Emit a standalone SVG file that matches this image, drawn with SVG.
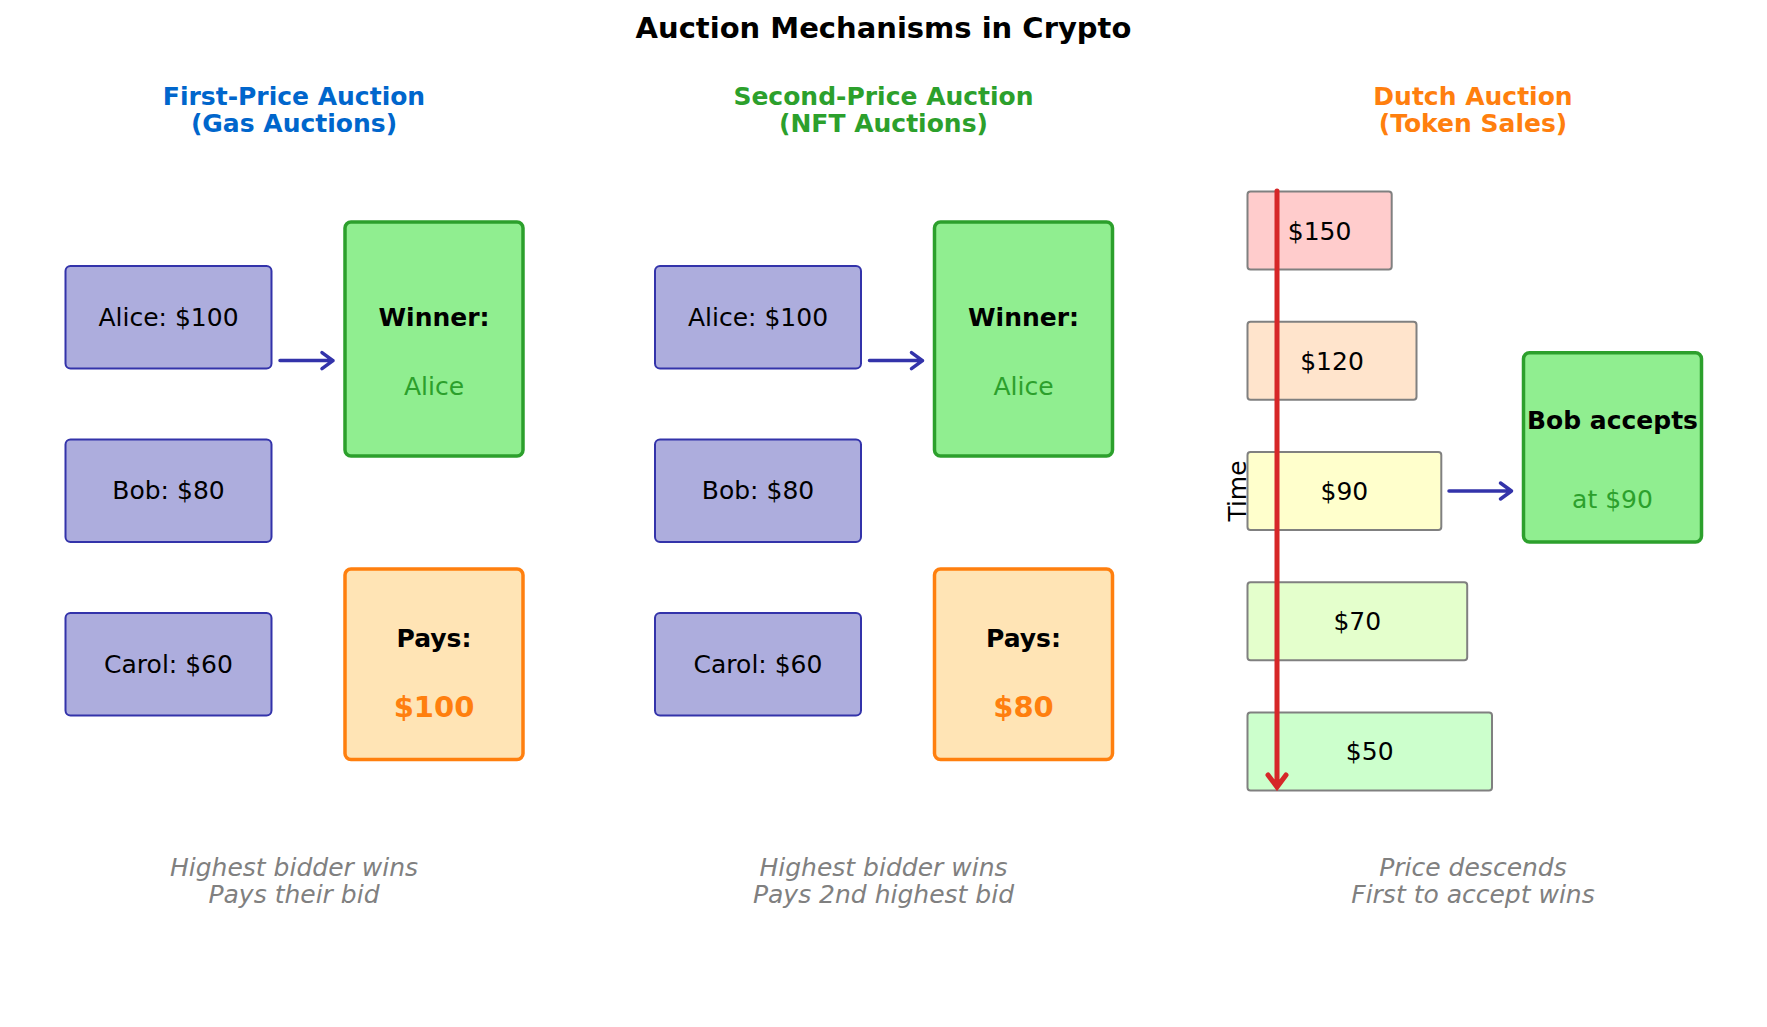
<svg xmlns="http://www.w3.org/2000/svg" width="1767" height="1027" viewBox="0 0 1767 1027">
<style>
text{font-family:"DejaVu Sans","Liberation Sans",sans-serif;font-size:25px;text-anchor:middle;fill:#000}
.title{font-size:29px;font-weight:bold}
.sub{font-weight:bold}
.cap{font-style:italic;fill:#808080}
.bid{fill:#adaddd;stroke:#3333aa;stroke-width:2}
.win{fill:#90ee90;stroke:#2ca02c;stroke-width:3.5}
.pay{fill:#ffe4b5;stroke:#ff7f0e;stroke-width:3.5}
.price{stroke:#808080;stroke-width:2}
.b{font-weight:bold}
.g{fill:#2ca02c}
.o{fill:#ff7f0e;font-weight:bold;font-size:29px}
.arr{fill:none;stroke:#3333aa;stroke-width:3.5;stroke-linecap:round;stroke-linejoin:round}
.red{fill:none;stroke:#d62728;stroke-width:5;stroke-linecap:round;stroke-linejoin:miter}
</style>
<rect width="1767" height="1027" fill="#fff"/>
<text class="title" x="883.5" y="38">Auction Mechanisms in Crypto</text>

<g id="panel-first">
<text class="sub" x="294" y="105" style="fill:#0066cc">First-Price Auction</text>
<text class="sub" x="294" y="132" style="fill:#0066cc">(Gas Auctions)</text>
<g id="fp-alice"><rect class="bid" x="65.5" y="266" width="206" height="102.5" rx="5"/><text x="168.5" y="325.8">Alice: $100</text></g>
<g id="fp-bob"><rect class="bid" x="65.5" y="439.5" width="206" height="102.5" rx="5"/><text x="168.5" y="499.3">Bob: $80</text></g>
<g id="fp-carol"><rect class="bid" x="65.5" y="613" width="206" height="102.5" rx="5"/><text x="168.5" y="672.8">Carol: $60</text></g>
<g id="fp-winner"><rect class="win" x="345" y="222" width="178" height="234" rx="6"/><text class="b" x="434" y="325.8">Winner:</text><text class="g" x="434" y="394.5">Alice</text></g>
<g id="fp-pays"><rect class="pay" x="345" y="569" width="178" height="190.5" rx="6"/><text class="b" x="434" y="646.8">Pays:</text><text class="o" x="434" y="717">$100</text></g>
<text class="cap" x="294" y="875.5">Highest bidder wins</text>
<text class="cap" x="294" y="903">Pays their bid</text>
</g>

<g id="panel-second">
<text class="sub" x="883.5" y="105" style="fill:#2ca02c">Second-Price Auction</text>
<text class="sub" x="883.5" y="132" style="fill:#2ca02c">(NFT Auctions)</text>
<g id="sp-alice"><rect class="bid" x="655" y="266" width="206" height="102.5" rx="5"/><text x="758" y="325.8">Alice: $100</text></g>
<g id="sp-bob"><rect class="bid" x="655" y="439.5" width="206" height="102.5" rx="5"/><text x="758" y="499.3">Bob: $80</text></g>
<g id="sp-carol"><rect class="bid" x="655" y="613" width="206" height="102.5" rx="5"/><text x="758" y="672.8">Carol: $60</text></g>
<g id="sp-winner"><rect class="win" x="934.5" y="222" width="178" height="234" rx="6"/><text class="b" x="1023.5" y="325.8">Winner:</text><text class="g" x="1023.5" y="394.5">Alice</text></g>
<g id="sp-pays"><rect class="pay" x="934.5" y="569" width="178" height="190.5" rx="6"/><text class="b" x="1023.5" y="646.8">Pays:</text><text class="o" x="1023.5" y="717">$80</text></g>
<text class="cap" x="883.5" y="875.5">Highest bidder wins</text>
<text class="cap" x="883.5" y="903">Pays 2nd highest bid</text>
</g>

<g id="panel-dutch">
<text class="sub" x="1473" y="105" style="fill:#ff7f0e">Dutch Auction</text>
<text class="sub" x="1473" y="132" style="fill:#ff7f0e">(Token Sales)</text>
<g id="d-150"><rect class="price" x="1247.5" y="191.6" width="144.2" height="78" rx="3" fill="#ffcccc"/><text x="1319.6" y="239.5">$150</text></g>
<g id="d-120"><rect class="price" x="1247.5" y="321.8" width="169" height="78" rx="3" fill="#ffe4cc"/><text x="1332" y="369.8">$120</text></g>
<g id="d-90"><rect class="price" x="1247.5" y="452" width="193.8" height="78" rx="3" fill="#ffffcc"/><text x="1344.4" y="500">$90</text></g>
<g id="d-70"><rect class="price" x="1247.5" y="582.2" width="219.7" height="78" rx="3" fill="#e4ffcc"/><text x="1357.3" y="630.2">$70</text></g>
<g id="d-50"><rect class="price" x="1247.5" y="712.4" width="244.5" height="78" rx="3" fill="#ccffcc"/><text x="1369.7" y="760.4">$50</text></g>
<g id="d-bob"><rect class="win" x="1523.5" y="352.7" width="178" height="189.3" rx="6"/><text class="b" x="1612.5" y="429.4">Bob accepts</text><text class="g" x="1612.5" y="508">at $90</text></g>
<text transform="translate(1246,491) rotate(-90)" x="0" y="0">Time</text>
<text class="cap" x="1473" y="875.5">Price descends</text>
<text class="cap" x="1473" y="903">First to accept wins</text>
</g>

<g id="connectors">
<path class="arr" d="M280,360.6 H333 M322,352.6 L333,360.6 L322,368.6"/>
<path class="arr" d="M869.5,360.6 H922.5 M911.5,352.6 L922.5,360.6 L911.5,368.6"/>
<path class="arr" d="M1449,491 H1511.5 M1500.5,483 L1511.5,491 L1500.5,499"/>
<path class="red" d="M1277,191 V786 M1268,775 L1277,787 L1286,775"/>
</g>
</svg>
